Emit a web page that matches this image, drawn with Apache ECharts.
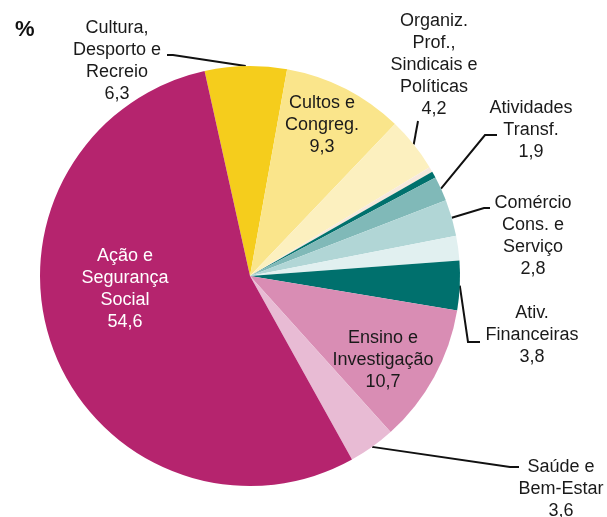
<!DOCTYPE html>
<html>
<head>
<meta charset="utf-8">
<script src="https://cdn.jsdelivr.net/npm/echarts@6/dist/echarts.min.js"></script>
<style>
  html, body { margin: 0; padding: 0; background: #fff; }
  #chart { width: 607px; height: 517px; }
</style>
</head>
<body>
<div id="chart"></div>
<script>
  // categorias, no sentido dos ponteiros a partir de "Cultura"
  const categories = [
    'Cultura,\nDesporto e\nRecreio',
    'Cultos e\nCongreg.',
    'Organiz.\nProf.,\nSindicais e\nPolíticas',
    '',
    '',
    'Atividades\nTransf.',
    'Comércio\nCons. e\nServiço',
    '',
    'Ativ.\nFinanceiras',
    'Ensino e\nInvestigação',
    'Saúde e\nBem-Estar',
    'Ação e\nSegurança\nSocial'
  ];
  const values = [6.3, 9.3, 4.2, 0.4, 0.5, 1.9, 2.8, 1.9, 3.8, 10.7, 3.6, 54.6];
  const colors = ['#f5cd1c', '#fae58b', '#fcf0bf', '#f6e9dd', '#00716d', '#80b9b8',
                  '#b1d6d6', '#e1f0f0', '#00706d', '#d98db4', '#e8bbd4', '#b5246e'];
  const insideIdx = [1, 9, 11];

  // posição das etiquetas (centro do bloco) e cotovelo da linha de chamada
  const labelPos = {
    0: { x: 117, y: 61, line: [[173, 55], [167, 55]] },
    1: { x: 322, y: 125 },
    2: { x: 434, y: 65, line: [[418, 121], [418, 121]] },
    5: { x: 531, y: 130, line: [[485, 135], [497, 135]] },
    6: { x: 533, y: 236, line: [[484, 208], [490, 208]] },
    8: { x: 532, y: 335, line: [[468, 342], [480, 342]] },
    9: { x: 383, y: 360 },
    10: { x: 561, y: 489, line: [[510, 467], [519, 467]] },
    11: { x: 125, y: 289 }
  };

  function fmt(v) {
    return v.toFixed(1).replace('.', ',');
  }

  const data = values.map(function (v, i) {
    const hasLabel = categories[i] !== '';
    const inside = insideIdx.indexOf(i) >= 0;
    return {
      name: categories[i],
      value: v,
      itemStyle: { color: colors[i] },
      label: {
        show: hasLabel,
        position: inside ? 'inside' : 'outside',
        color: i === 11 ? '#ffffff' : '#1a1a1a'
      },
      labelLine: { show: hasLabel && !inside }
    };
  });

  const chart = echarts.init(document.getElementById('chart'));
  chart.setOption({
    animation: false,
    title: {
      text: '%',
      left: 10,
      top: 14,
      textStyle: { fontFamily: 'Liberation Sans', fontSize: 22, fontWeight: 'bold', color: '#111' }
    },
    series: [{
      type: 'pie',
      center: [250, 276],
      radius: 210,
      startAngle: 102.5,
      clockwise: true,
      avoidLabelOverlap: false,
      silent: true,
      emphasis: { disabled: true },
      label: {
        formatter: function (p) { return p.name + '\n' + fmt(p.value); },
        fontFamily: 'Liberation Sans',
        fontSize: 18,
        lineHeight: 22,
        align: 'center'
      },
      labelLine: {
        lineStyle: { color: '#111', width: 2 }
      },
      labelLayout: function (p) {
        const pos = labelPos[p.dataIndex];
        if (!pos) return {};
        const out = { x: pos.x, y: pos.y, align: 'center', verticalAlign: 'middle' };
        if (pos.line && p.labelLinePoints) {
          out.labelLinePoints = [p.labelLinePoints[0], pos.line[0], pos.line[1]];
        }
        return out;
      },
      data: data
    }]
  });
</script>
</body>
</html>
